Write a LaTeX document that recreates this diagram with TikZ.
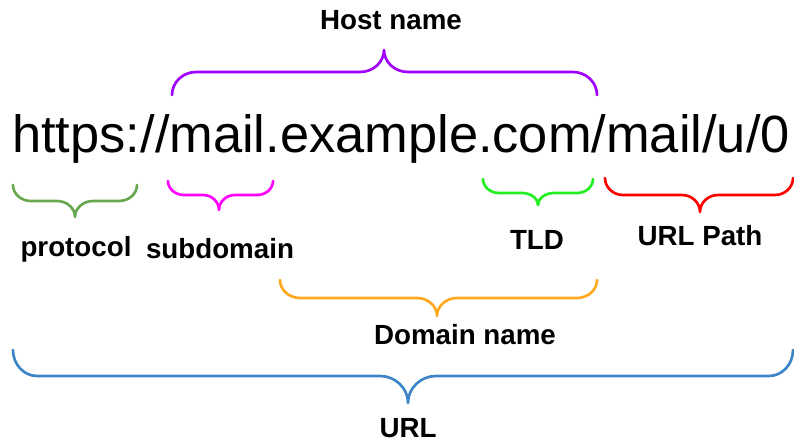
\documentclass[tikz,border=0pt]{standalone}
\usepackage{fontspec}
\setmainfont{Liberation Sans}
\definecolor{cHost}{HTML}{A000FF}
\definecolor{cProt}{HTML}{6AA84F}
\definecolor{cSub}{HTML}{FF00FF}
\definecolor{cTLD}{HTML}{22EE22}
\definecolor{cPath}{HTML}{FF0000}
\definecolor{cDom}{HTML}{FFA820}
\definecolor{cURL}{HTML}{3D85C6}
% #1 colour, #2 x1, #3 x2, #4 xc, #5 yend, #6 yflat, #7 ytip, #8 end radius, #9 tip radius
\newcommand\mybrace[9]{%
  \draw[bracestyle,#1] (#2,#5) .. controls (#2,{#6+0.45*(#5-#6)}) and ({#2+0.45*#8},#6) .. (#2+#8,#6) -- (#4-#9,#6)
    .. controls ({#4-0.45*#9},#6) and (#4,{#6+0.45*(#7-#6)}) .. (#4,#7)
    .. controls (#4,{#6+0.45*(#7-#6)}) and ({#4+0.45*#9},#6) .. (#4+#9,#6) -- (#3-#8,#6)
    .. controls ({#3-0.45*#8},#6) and (#3,{#6+0.45*(#5-#6)}) .. (#3,#5);}
\begin{document}
\begin{tikzpicture}[x=0.75pt,y=-0.75pt,
  bracestyle/.style={line width=2pt,line cap=round,line join=round},
  lbl/.style={font=\bfseries\fontsize{20.8}{25}\selectfont,inner sep=0pt,anchor=center}]
\useasboundingbox (0,0) rectangle (794,443);
\node[inner sep=0pt,anchor=base west,font=\fontsize{39.3}{47}\selectfont] (url) at (12,152) {https://mail.example.com/mail/u/0};
\mybrace{cHost}{172}{597}{384}{95}{72}{50}{24}{24}
\node[lbl] (host) at (391,20) {Host name};
\mybrace{cProt}{13}{137}{75}{185}{201}{217}{18}{18}
\node[lbl] (prot) at (76,249) {protocol};
\mybrace{cSub}{168}{273}{219}{181}{195}{210}{16}{16}
\node[lbl] (sub) at (220,249) {subdomain};
\mybrace{cTLD}{483}{593}{538}{179}{193}{205}{16}{16}
\node[lbl] (tld) at (537,240) {TLD};
\mybrace{cPath}{605}{793}{700}{178}{195}{212}{18}{18}
\node[lbl] (path) at (700,236) {URL Path};
\mybrace{cDom}{280}{597}{437}{280}{298}{316}{20}{20}
\node[lbl] (dom) at (465,335) {Domain name};
\mybrace{cURL}{13}{793}{408}{350}{376}{403}{24}{28}
\node[lbl] (urll) at (408,428) {URL};
\end{tikzpicture}
\end{document}
